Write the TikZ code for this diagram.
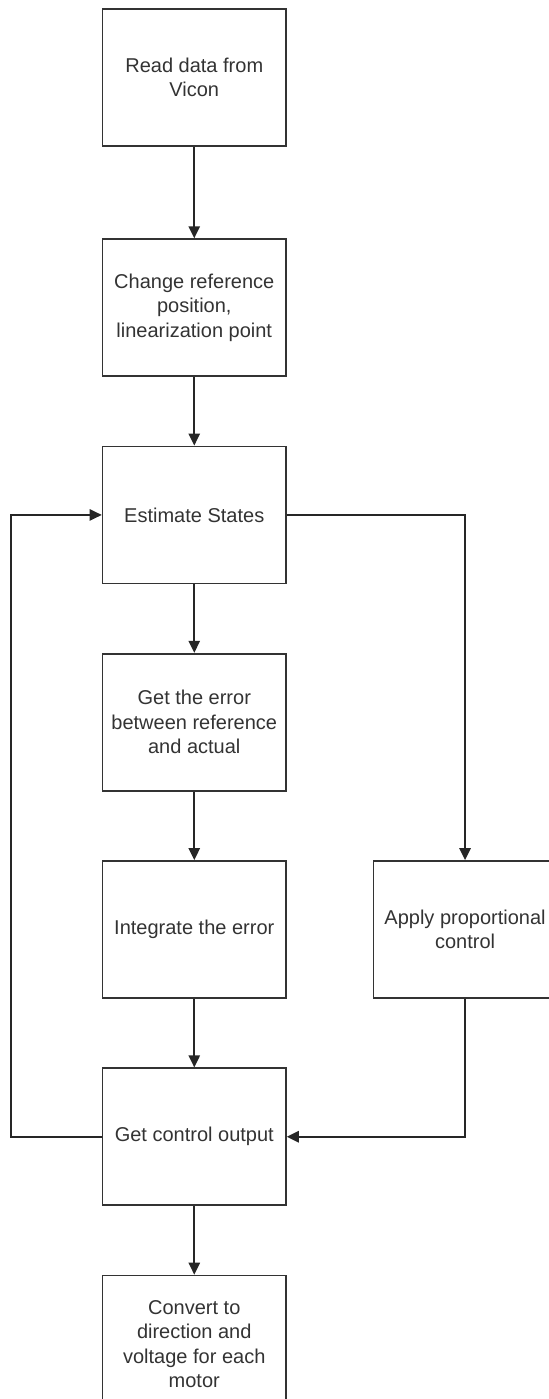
\documentclass[tikz,border=0pt]{standalone}
\usepackage{fontspec}
\setmainfont{Liberation Sans}
\usetikzlibrary{positioning,arrows.meta}

\tikzset{
    block/.style={draw=black!80, line width=1.3pt,
        minimum width=137.5pt, minimum height=102.75pt, inner sep=0pt,
        align=center, text=black!80, font=\fontsize{15}{18.3}\selectfont},
    flow/.style={draw=black!85, line width=1.3pt,
        -{Triangle[length=9pt,width=8.5pt]}}
}

\begin{document}
\begin{tikzpicture}
            \useasboundingbox (0,0) rectangle (411.75pt,-1049.25pt);
            % main column
            \node[block] (read) at (145.7pt,-58pt) {Read data from\\Vicon};
            \node[block, below=68.7pt of read] (change) {Change reference\\position,\\linearization point};
            \node[block, below=51.4pt of change] (estimate) {Estimate States};
            \node[block, below=51.4pt of estimate] (error) {Get the error\\between reference\\and actual};
            \node[block, below=51.4pt of error] (integrate) {Integrate the error};
            \node[block, below=51.4pt of integrate] (output) {Get control output};
            \node[block, below=51.4pt of output] (convert) {Convert to\\direction and\\voltage for each\\motor};
            % side branch
            \node[block, right=64.3pt of integrate] (prop) {Apply proportional\\control};
            \coordinate (loop) at ([xshift=-68.25pt]output.west);

            \draw[flow] (read) -- (change);
            \draw[flow] (change) -- (estimate);
            \draw[flow] (estimate) -- (error);
            \draw[flow] (error) -- (integrate);
            \draw[flow] (integrate) -- (output);
            \draw[flow] (output) -- (convert);
            \draw[flow] (estimate.east) -| (prop.north);
            \draw[flow] (prop.south) |- (output.east);
            \draw[flow] (output.west) -- (loop) |- (estimate.west);
        \end{tikzpicture}
\end{document}
